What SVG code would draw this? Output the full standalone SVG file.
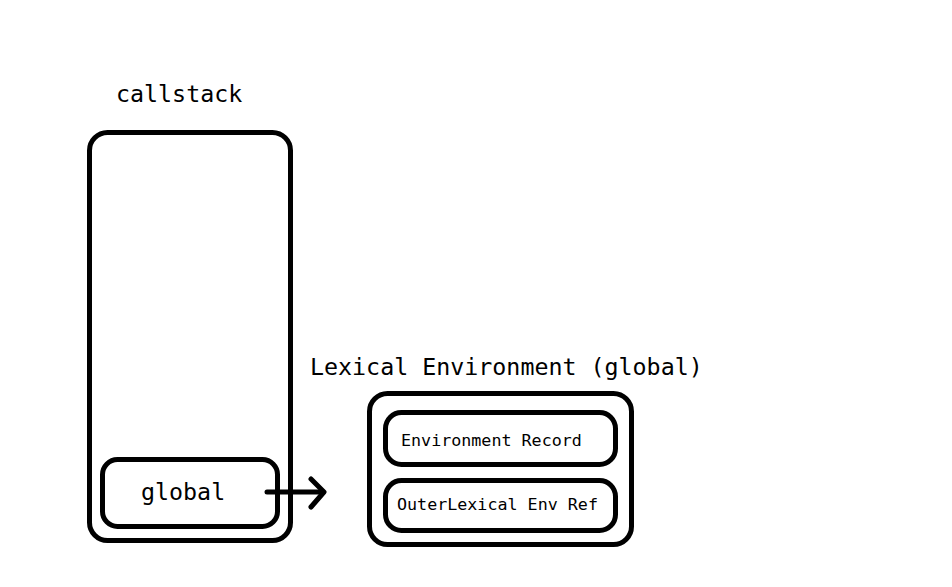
<svg xmlns="http://www.w3.org/2000/svg" width="952" height="587" viewBox="0 0 952 587">
<style>
.box{fill:none;stroke:#000;stroke-width:5}
.t{font-family:"DejaVu Sans Mono","Liberation Mono",monospace;fill:#000}
.big{font-size:23.3px}
.small{font-size:16.7px}
.conn{fill:none;stroke:#000;stroke-width:5;stroke-linecap:round;stroke-linejoin:round}
</style>
<rect width="952" height="587" fill="#fff"/>
<g id="callstack">
<text class="t big" x="116" y="102">callstack</text>
<rect class="box" x="89.5" y="132.5" width="201" height="408" rx="18"/>
</g>
<g id="global">
<rect class="box" x="102.5" y="459.5" width="175" height="67" rx="15"/>
<text class="t big" x="141" y="500">global</text>
</g>
<g id="lexenv">
<text class="t big" x="310" y="375">Lexical Environment (global)</text>
<rect class="box" x="369.5" y="393.5" width="262" height="151" rx="18"/>
</g>
<g id="envrecord">
<rect class="box" x="385.5" y="412.5" width="230" height="52" rx="16"/>
<text class="t small" x="401" y="446">Environment Record</text>
</g>
<g id="outerref">
<rect class="box" x="385.5" y="480.5" width="230" height="50" rx="16"/>
<text class="t small" x="397" y="510">OuterLexical Env Ref</text>
</g>
<g id="connectors">
<path class="conn" d="M267 492 H323"/>
<path class="conn" d="M311 479 L324 492 L311 507"/>
</g>
</svg>
